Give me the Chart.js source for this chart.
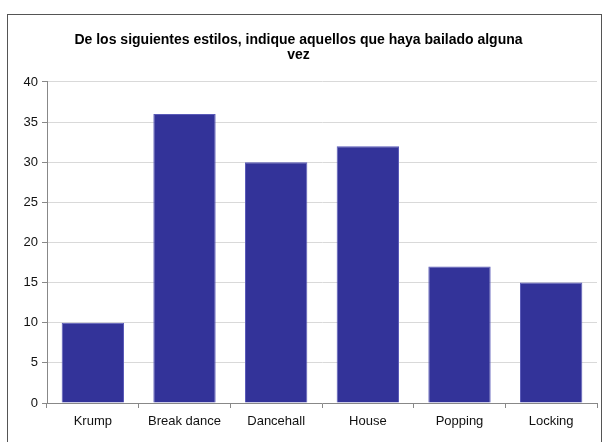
<!DOCTYPE html>
<html>
<head>
<meta charset="utf-8">
<script src="https://cdn.jsdelivr.net/npm/chart.js@4/dist/chart.umd.min.js"></script>
<style>
  body { margin: 0; background: #fff; overflow: hidden; }
  #frame { position: absolute; left: 7px; top: 14px; width: 593px; height: 500px; border: 1px solid #555; }
  #chart { position: absolute; left: 0; top: 0; }
</style>
</head>
<body>
<div id="frame"></div>
<canvas id="chart" width="603" height="442"></canvas>
<script>
const categories = ['Krump', 'Break dance', 'Dancehall', 'House', 'Popping', 'Locking']
const values = [10, 36, 30, 32, 17, 15]
const yTicks = [0, 5, 10, 15, 20, 25, 30, 35, 40]
const titleLines = ['De los siguientes estilos, indique aquellos que haya bailado alguna', 'vez']

const fontFamily = '"Liberation Sans", Arial, sans-serif'

/* eslint-disable no-magic-numbers, no-new */
new Chart(document.getElementById('chart'), {
  type: 'bar',
  data: {
    labels: categories,
    datasets: [{
      data: values,
      backgroundColor: '#333399',
      borderColor: '#5a5ab8',
      borderWidth: 1,
      categoryPercentage: 1,
      barPercentage: 0.68
    }]
  },
  options: {
    responsive: false,
    animation: false,
    layout: { padding: { left: 0, right: 6, top: 0, bottom: 0 } },
    plugins: {
      legend: { display: false },
      tooltip: { enabled: false },
      title: {
        display: true,
        text: titleLines,
        color: '#000',
        font: { family: fontFamily, size: 14, weight: 'bold', lineHeight: 1.07 },
        padding: { top: 33, bottom: 19 }
      }
    },
    scales: {
      x: {
        grid: { display: true, drawOnChartArea: false, drawTicks: true, tickLength: 5, offset: true, color: '#888' },
        border: { color: '#888' },
        ticks: { color: '#111', font: { family: fontFamily, size: 13 }, padding: 6 },
        afterFit: (s) => { s.height = 39 }
      },
      y: {
        min: 0,
        max: 40,
        afterBuildTicks: (s) => { s.ticks = yTicks.map((v) => ({ value: v })) },
        grid: { color: '#d9d9d9', tickLength: 5, tickColor: '#888' },
        border: { color: '#888' },
        ticks: { color: '#111', font: { family: fontFamily, size: 13 }, padding: 4 },
        afterFit: (s) => { s.width = 47 }
      }
    }
  }
})
/* eslint-enable no-magic-numbers, no-new */
</script>
</body>
</html>
